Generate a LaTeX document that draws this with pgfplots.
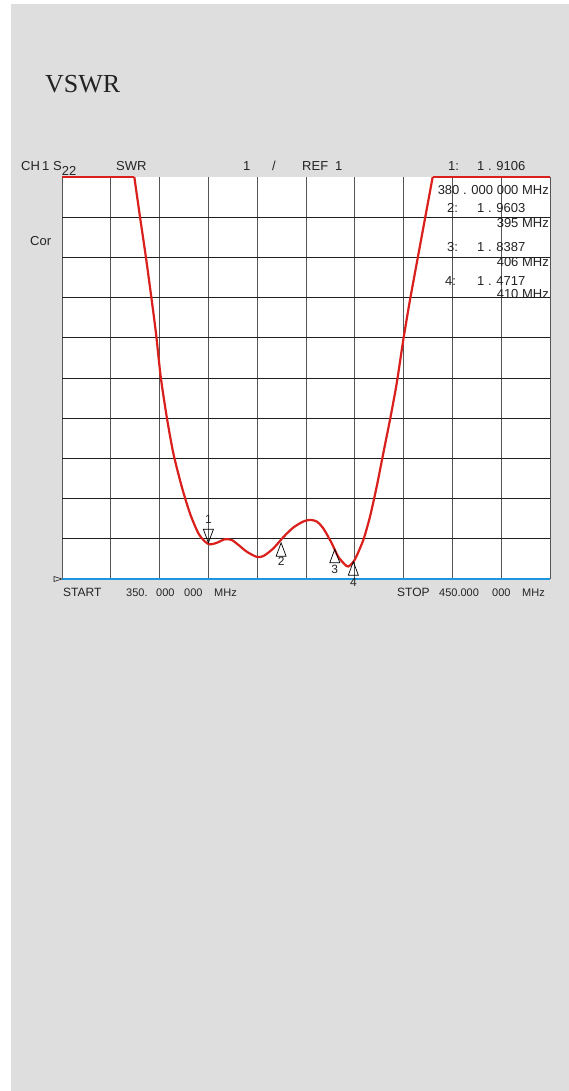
\documentclass[border=0pt]{standalone}
\usepackage{fontspec}
\setmainfont{Liberation Sans}
\newfontfamily\titlefont{Liberation Serif}
\usepackage{pgfplots}
\pgfplotsset{compat=1.18}
\definecolor{bg}{RGB}{222,222,222}
\definecolor{swrred}{RGB}{218,32,28}
\definecolor{swrblue}{RGB}{28,150,222}
\definecolor{txt}{RGB}{35,35,35}
\definecolor{vgrid}{RGB}{85,85,85}
\definecolor{hgrid}{RGB}{30,30,30}
\begin{document}
\begin{tikzpicture}[x=1pt,y=1pt]
\useasboundingbox (0,0) rectangle (569,1091);
\fill[white] (0,0) rectangle (569,1091);
\fill[bg] (11,0) rectangle (569,1087);
\node[anchor=base west, inner sep=0, text=txt, font=\titlefont\fontsize{26}{30}\selectfont] at (45,998) {VSWR};
\begin{axis}[
  at={(62pt,512pt)}, anchor=south west, scale only axis,
  width=488pt, height=402pt,
  xmin=350, xmax=450, ymin=1, ymax=11,
  xtick={350,360,...,450}, ytick={2,3,...,10},
  xticklabels={}, yticklabels={},
  major tick length=0pt, tick style={draw=none},
  xmajorgrids, ymajorgrids,
  x grid style={vgrid, line width=1pt},
  y grid style={hgrid, line width=0.8pt},
  axis line style={draw=none},
  axis background/.style={fill=white},
  clip=false,
]
% bottom reference line
\addplot[swrblue, line width=1.6pt] coordinates {(350,1) (450,1)};
% SWR trace
\addplot[swrred, line width=2.2pt] coordinates {(350,11) (364.82,11)};
\addplot[swrred, line width=2.2pt, smooth, tension=0.45] coordinates {
(364.82,11.0) (365.98,10.01) (367.21,8.99) (368.38,7.94) (369.26,7.11)
(370.23,6.03) (371.45,5.04) (372.81,4.13) (374.53,3.30) (376.23,2.63)
(377.93,2.14) (379.30,1.93) (380.33,1.86) (381.70,1.90) (383.40,1.99)
(384.77,1.97) (386.13,1.85) (387.85,1.68) (389.90,1.55) (391.25,1.57)
(393.30,1.76) (395.35,2.04) (397.40,2.28) (399.45,2.43) (400.82,2.47)
(402.19,2.43) (403.54,2.26) (405.27,1.89) (406.62,1.55) (408.34,1.32)
(409.02,1.34) (410.04,1.49) (411.74,1.97) (413.11,2.55) (414.49,3.30)
(415.84,4.13) (417.21,4.96) (418.59,5.87) (419.94,6.95) (421.31,7.94)
(423.57,9.43) (425.96,11.0)};
\addplot[swrred, line width=2.2pt] coordinates {(425.96,11) (450,11)};
% markers
\addplot[only marks, mark=triangle, mark size=5.8pt,
  mark options={draw=black, fill=white, line width=0.7pt, yshift=9pt, yscale=1.55, rotate=180},
  nodes near coords, point meta=explicit symbolic,
  every node near coord/.style={anchor=center, yshift=14pt, text=txt, font=\fontsize{12}{14}\selectfont}]
  coordinates {(380,1.90) [1]};
\addplot[only marks, mark=triangle, mark size=5.8pt,
  mark options={draw=black, fill=white, line width=0.7pt, yshift=-9pt, yscale=1.55},
  nodes near coords, point meta=explicit symbolic,
  every node near coord/.style={anchor=center, yshift=-9pt, text=txt, font=\fontsize{12}{14}\selectfont}]
  coordinates {(394.9,1.90) [2]};
\addplot[only marks, mark=triangle, mark size=5.8pt,
  mark options={draw=black, fill=white, line width=0.7pt, yshift=-9pt, yscale=1.55},
  nodes near coords, point meta=explicit symbolic,
  every node near coord/.style={anchor=center, yshift=-11pt, text=txt, font=\fontsize{12}{14}\selectfont}]
  coordinates {(405.9,1.74) [3]};
\addplot[only marks, mark=triangle, mark size=5.8pt,
  mark options={draw=black, fill=white, line width=0.7pt, yshift=-9pt, yscale=1.55},
  nodes near coords, point meta=explicit symbolic,
  every node near coord/.style={anchor=center, yshift=-12pt, text=txt, font=\fontsize{12}{14}\selectfont}]
  coordinates {(409.7,1.43) [4]};
\end{axis}
% reference pointer
\draw[txt, line width=0.6pt] (54,514.5) -- (62,512) -- (54,509.5) -- cycle;
\begin{scope}[every node/.style={anchor=base west, inner sep=0, text=txt, font=\fontsize{13}{15}\selectfont}]
\node at (21,920) {CH\,1};
\node at (53,920) {S\raisebox{-5pt}{22}};
\node at (116,920) {SWR};
\node at (243,920) {1};
\node at (272,920) {/};
\node at (302,920) {REF};
\node at (335,920) {1};
\node at (448,920) {1:};
\node at (477,920) {1 . 9106};
\node[anchor=base east] at (549,896) {380 . 000 000 MHz};
\node at (447,878) {2:};
\node at (477,878) {1 . 9603};
\node[anchor=base east] at (549,863) {395 MHz};
\node at (447,839) {3:};
\node at (477,839) {1 . 8387};
\node[anchor=base east] at (549,824) {406 MHz};
\node at (445,805) {4:};
\node at (477,805) {1 . 4717};
\node[anchor=base east] at (549,792) {410 MHz};
\node at (30,845) {Cor};
\end{scope}
\begin{scope}[every node/.style={anchor=base west, inner sep=0, text=txt, font=\fontsize{12}{14}\selectfont}]
\node at (63,494) {START};
\node at (397,494) {STOP};
\end{scope}
\begin{scope}[every node/.style={anchor=base west, inner sep=0, text=txt, font=\fontsize{11}{13}\selectfont}]
\node at (126,494) {350.};
\node at (156,494) {000};
\node at (184,494) {000};
\node at (214,494) {MHz};
\node at (439,494) {450.000};
\node at (492,494) {000};
\node at (522,494) {MHz};
\end{scope}
\end{tikzpicture}
\end{document}
